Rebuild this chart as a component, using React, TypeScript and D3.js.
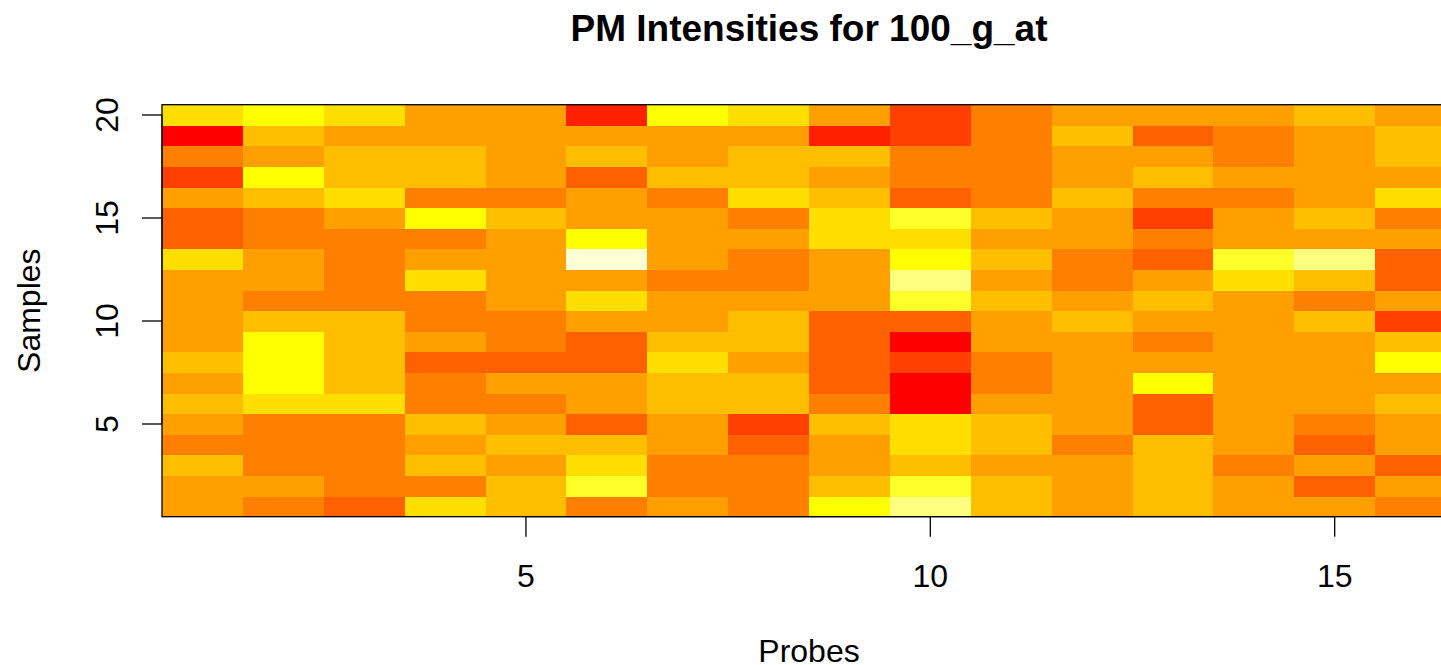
import React, { useRef, useEffect } from "react";
import * as d3 from "d3";

// heat.colors(12), low -> high
const heatColors = [
  "#FF0000", "#FF2000", "#FF4000", "#FF6000", "#FF8000", "#FF9F00",
  "#FFBF00", "#FFDF00", "#FFFF00", "#FFFF2A", "#FFFF80", "#FFFFD5",
];

// intensity level per probe, samples 1..20
const probe1 = [5, 5, 6, 4, 5, 6, 5, 6, 5, 5, 5, 5, 7, 3, 3, 5, 2, 4, 0, 7];
const probe2 = [4, 5, 4, 4, 4, 7, 8, 8, 8, 6, 4, 5, 5, 4, 4, 6, 8, 5, 6, 8];
const probe3 = [3, 4, 4, 4, 4, 7, 6, 6, 6, 6, 4, 4, 4, 4, 5, 7, 6, 6, 5, 7];
const probe4 = [7, 4, 6, 5, 6, 4, 4, 3, 5, 4, 4, 7, 5, 4, 8, 4, 6, 6, 5, 5];
const probe5 = [6, 6, 5, 6, 5, 4, 5, 3, 4, 4, 5, 5, 5, 5, 6, 4, 5, 5, 5, 5];
const probe6 = [4, 9, 7, 6, 3, 5, 5, 3, 3, 5, 7, 5, 11, 8, 5, 5, 3, 6, 5, 1];
const probe7 = [5, 4, 4, 5, 5, 6, 6, 7, 6, 5, 5, 4, 5, 5, 5, 4, 6, 5, 5, 8];
const probe8 = [4, 4, 4, 3, 2, 6, 6, 5, 6, 6, 5, 4, 4, 5, 4, 7, 6, 6, 5, 7];
const probe9 = [8, 6, 5, 5, 6, 4, 3, 3, 3, 3, 5, 5, 5, 7, 7, 6, 5, 6, 1, 5];
const probe10 = [10, 9, 6, 7, 7, 0, 0, 2, 0, 3, 9, 10, 8, 7, 9, 3, 4, 4, 2, 2];
const probe11 = [6, 6, 5, 6, 6, 5, 4, 4, 5, 5, 6, 5, 6, 5, 6, 4, 4, 4, 4, 4];
const probe12 = [5, 5, 5, 4, 5, 5, 5, 5, 5, 6, 5, 4, 4, 5, 5, 6, 5, 5, 6, 5];
const probe13 = [6, 6, 6, 6, 3, 3, 8, 5, 4, 5, 6, 5, 3, 4, 2, 4, 6, 5, 3, 5];
const probe14 = [5, 5, 4, 5, 5, 5, 5, 5, 5, 5, 5, 7, 9, 5, 5, 4, 5, 4, 4, 5];
const probe15 = [5, 3, 5, 3, 4, 5, 5, 5, 5, 6, 4, 6, 10, 5, 6, 5, 5, 5, 5, 6];
const probe16 = [4, 5, 3, 5, 5, 6, 5, 8, 6, 2, 5, 3, 3, 5, 4, 7, 5, 6, 6, 5];

const probes = [
  probe1, probe2, probe3, probe4, probe5, probe6, probe7, probe8,
  probe9, probe10, probe11, probe12, probe13, probe14, probe15, probe16,
];

const xTicks = [5, 10, 15];
const yTicks = [5, 10, 15, 20];

const font = "'Liberation Sans', Arial, Helvetica, sans-serif";

const App = () => {
  const svgRef = useRef<SVGSVGElement>(null);

  useEffect(() => {
    const width = 1441;
    const height = 665;
    const left = 162;
    const right = 1456; // plot runs past the window edge
    const top = 104.7;
    const bottom = 516.7;

    const svg = d3.select(svgRef.current)
      .attr("width", width)
      .attr("height", height);
    svg.selectAll("*").remove();

    const nSamples = probes[0].length;

    const x = d3.scaleLinear().domain([0.5, probes.length + 0.5]).range([left, right]);
    const y = d3.scaleLinear().domain([0.5, nSamples + 0.5]).range([bottom, top]);
    const color = d3.scaleOrdinal<number, string>()
      .domain(d3.range(heatColors.length))
      .range(heatColors);

    const cells = probes.flatMap((vals, i) =>
      vals.map((v, j) => ({ probe: i + 1, sample: j + 1, v })));

    svg.append("g")
      .selectAll("rect")
      .data(cells)
      .enter()
      .append("rect")
      .attr("x", d => x(d.probe - 0.5))
      .attr("y", d => y(d.sample + 0.5))
      .attr("width", d => x(d.probe + 0.5) - x(d.probe - 0.5) + 0.5)
      .attr("height", d => y(d.sample - 0.5) - y(d.sample + 0.5) + 0.5)
      .attr("fill", d => color(d.v))
      .attr("shape-rendering", "crispEdges");

    // box
    svg.append("rect")
      .attr("x", left)
      .attr("y", top)
      .attr("width", right - left)
      .attr("height", bottom - top)
      .attr("fill", "none")
      .attr("stroke", "black")
      .attr("stroke-width", 1.3);

    const tick = 20;

    // x axis
    const gx = svg.append("g");
    gx.append("line")
      .attr("x1", x(xTicks[0])).attr("x2", x(xTicks[xTicks.length - 1]))
      .attr("y1", bottom).attr("y2", bottom)
      .attr("stroke", "black");
    gx.selectAll(".t")
      .data(xTicks)
      .enter()
      .append("line")
      .attr("x1", d => x(d)).attr("x2", d => x(d))
      .attr("y1", bottom).attr("y2", bottom + tick)
      .attr("stroke", "black")
      .attr("stroke-width", 1.3);
    gx.selectAll("text")
      .data(xTicks)
      .enter()
      .append("text")
      .attr("x", d => x(d))
      .attr("y", 587)
      .attr("text-anchor", "middle")
      .style("font-family", font)
      .style("font-size", "32px")
      .text(d => d);

    // y axis
    const gy = svg.append("g");
    gy.append("line")
      .attr("x1", left).attr("x2", left)
      .attr("y1", y(yTicks[0])).attr("y2", y(yTicks[yTicks.length - 1]))
      .attr("stroke", "black");
    gy.selectAll(".t")
      .data(yTicks)
      .enter()
      .append("line")
      .attr("x1", left - tick).attr("x2", left)
      .attr("y1", d => y(d)).attr("y2", d => y(d))
      .attr("stroke", "black")
      .attr("stroke-width", 1.3);
    gy.selectAll("text")
      .data(yTicks)
      .enter()
      .append("text")
      .attr("transform", d => `translate(118, ${y(d)}) rotate(-90)`)
      .attr("text-anchor", "middle")
      .style("font-family", font)
      .style("font-size", "32px")
      .text(d => d);

    // titles
    svg.append("text")
      .attr("x", 809)
      .attr("y", 41)
      .attr("text-anchor", "middle")
      .style("font-family", font)
      .style("font-size", "37px")
      .style("font-weight", "bold")
      .text("PM Intensities for 100_g_at");

    svg.append("text")
      .attr("x", 809)
      .attr("y", 662)
      .attr("text-anchor", "middle")
      .style("font-family", font)
      .style("font-size", "32px")
      .text("Probes");

    svg.append("text")
      .attr("transform", `translate(40, ${(top + bottom) / 2}) rotate(-90)`)
      .attr("text-anchor", "middle")
      .style("font-family", font)
      .style("font-size", "32px")
      .text("Samples");
  }, []);

  return (
    <svg
      ref={svgRef}
      style={{ position: "absolute", left: 0, top: 0, display: "block", background: "white" }}
    />
  );
};

export default App;
